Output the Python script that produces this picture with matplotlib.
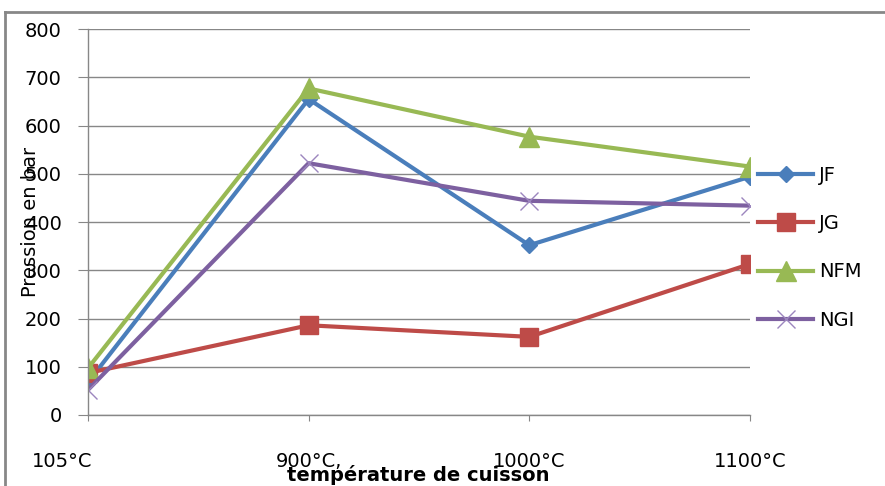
import matplotlib.pyplot as plt
from matplotlib.lines import Line2D
from matplotlib.transforms import ScaledTranslation

# categories (cooking temperature)
temperatures = ["105°C", "900°C,", "1000°C", "1100°C"]

# pressure in bar for each sample
jf = [68, 655, 352, 494]
jg = [87, 186, 162, 313]
nfm = [97, 677, 577, 515]
ngi = [52, 522, 444, 434]

fig = plt.figure(figsize=(8.85, 4.86), dpi=100)
ax = fig.add_axes([0.0994, 0.1461, 0.748, 0.794])

x = range(len(temperatures))
ax.plot(x, jf, label="JF", color="#4A7EBB", lw=3, marker="D", ms=8, mec="#4A7EBB")
ax.plot(x, jg, label="JG", color="#BE4B48", lw=3, marker="s", ms=13, mec="#BE4B48")
ax.plot(x, nfm, label="NFM", color="#98B954", lw=3, marker="^", ms=14, mec="#98B954")
ax.plot(x, ngi, label="NGI", color="#7D60A0", lw=3, marker="x", ms=13, mew=1.0,
        mec="#9C86BE")

ax.set_xlim(0, 3)
ax.set_ylim(0, 800)
ax.set_yticks(range(0, 801, 100))
ax.set_xticks(list(x))
ax.set_xticklabels(temperatures)
ax.grid(axis="y", color="#878787", lw=1)
ax.set_axisbelow(True)

for s in ["top", "right"]:
    ax.spines[s].set_visible(False)
for s in ["left", "bottom"]:
    ax.spines[s].set_color("#878787")
    ax.spines[s].set_linewidth(1)

ax.tick_params(axis="y", length=7, color="#878787", pad=12, labelsize=14)
ax.tick_params(axis="x", length=4, color="#878787", pad=23, labelsize=14)

# first category label sits a bit to the left in the original
first = ax.get_xticklabels()[0]
first.set_transform(first.get_transform() + ScaledTranslation(-0.26, 0, fig.dpi_scale_trans))

fig.text(0.034, 0.543, "Pression en bar", rotation=90, fontsize=14,
         ha="center", va="center")
fig.text(0.473, 0.022, "température de cuisson", fontsize=14, fontweight="bold",
         ha="center", va="center")

ax.legend(loc="center left", bbox_to_anchor=(0.857, 0.49),
          bbox_transform=fig.transFigure, frameon=False, fontsize=14,
          handlelength=2.8, handletextpad=0.3, labelspacing=1.5,
          borderaxespad=0, borderpad=0)

# outer chart frame
fig.add_artist(Line2D([5 / 885, 5 / 885], [0, 1 - 12 / 486], color="#878787", lw=2))
fig.add_artist(Line2D([5 / 885, 1], [1 - 12 / 486, 1 - 12 / 486], color="#878787", lw=2))

fig.savefig("out.png", dpi=100)
